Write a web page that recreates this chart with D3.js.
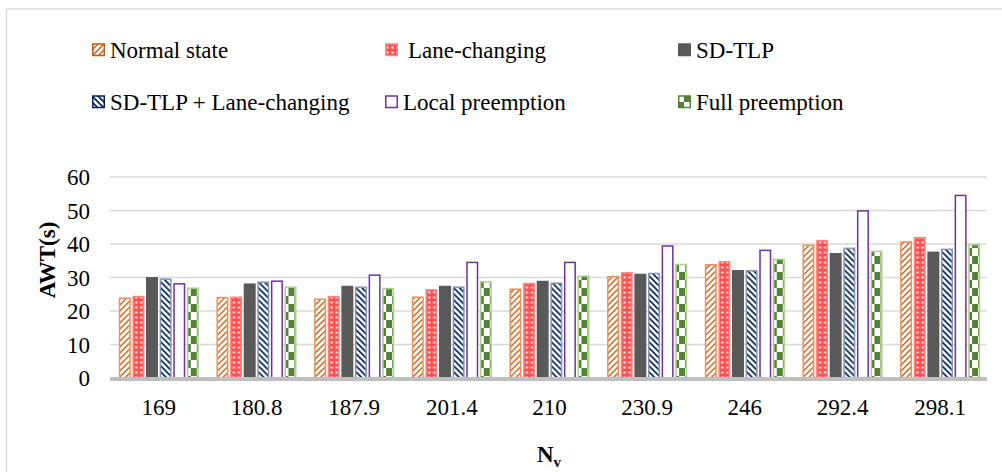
<!DOCTYPE html>
<html>
<head>
<meta charset="utf-8">
<script src="https://cdn.jsdelivr.net/npm/d3@7"></script>
<style>
  html, body { margin: 0; padding: 0; background: #fff; }
</style>
</head>
<body>
<div id="chart"></div>
<script>
// categories (N_v)
const categories = ["169", "180.8", "187.9", "201.4", "210", "230.9", "246", "292.4", "298.1"];
const seriesNames = ["Normal state", "Lane-changing", "SD-TLP", "SD-TLP + Lane-changing", "Local preemption", "Full preemption"];

// AWT(s) per series
const normalState = [23.8, 24.0, 23.5, 24.1, 26.5, 30.2, 33.8, 39.6, 40.6];
const laneChanging = [24.3, 24.1, 24.3, 26.3, 28.2, 31.4, 34.7, 41.0, 41.9];
const sdTlp = [29.9, 28.0, 27.3, 27.3, 28.8, 30.9, 32.0, 37.1, 37.5];
const sdTlpLane = [29.5, 28.6, 27.1, 27.1, 28.3, 31.2, 32.0, 38.7, 38.4];
const localPreemption = [28.1, 28.9, 30.7, 34.5, 34.5, 39.4, 38.1, 49.9, 54.5];
const fullPreemption = [26.8, 27.1, 26.7, 28.7, 30.4, 33.9, 35.4, 37.8, 39.8];

const yTicks = [0, 10, 20, 30, 40, 50, 60];

const seriesValues = [normalState, laneChanging, sdTlp, sdTlpLane, localPreemption, fullPreemption];

const FONT = "'Liberation Serif', 'Times New Roman', serif";
const width = 1002, height = 472;
const svg = d3.select("#chart").append("svg")
    .attr("width", width)
    .attr("height", height)
    .attr("font-family", FONT);

// --- fill patterns ---
const defs = svg.append("defs");

let p = defs.append("pattern").attr("id", "pNormal").attr("patternUnits", "userSpaceOnUse")
    .attr("width", 6).attr("height", 6);
p.append("rect").attr("width", 6).attr("height", 6).attr("fill", "#fff");
p.append("path").attr("d", "M-1,7L7,-1M-1,1L1,-1M5,7L7,5").attr("stroke", "#C55A11").attr("stroke-width", 1.4);

p = defs.append("pattern").attr("id", "pLane").attr("patternUnits", "userSpaceOnUse")
    .attr("width", 5).attr("height", 5);
p.append("rect").attr("width", 5).attr("height", 5).attr("fill", "#FF5050");
p.append("rect").attr("x", 1.5).attr("y", 1.5).attr("width", 2).attr("height", 2).attr("fill", "#fff");

p = defs.append("pattern").attr("id", "pSdLane").attr("patternUnits", "userSpaceOnUse")
    .attr("width", 6).attr("height", 6);
p.append("rect").attr("width", 6).attr("height", 6).attr("fill", "#fff");
p.append("path").attr("d", "M-1,-1L7,7M5,-1L7,1M-1,5L1,7").attr("stroke", "#002060").attr("stroke-width", 1.6);

p = defs.append("pattern").attr("id", "pFull").attr("patternUnits", "userSpaceOnUse")
    .attr("width", 12).attr("height", 16);
p.append("rect").attr("width", 12).attr("height", 16).attr("fill", "#fff");
p.append("rect").attr("x", 0).attr("y", 0).attr("width", 6).attr("height", 8).attr("fill", "#548235");
p.append("rect").attr("x", 6).attr("y", 8).attr("width", 6).attr("height", 8).attr("fill", "#548235");

const fills = ["url(#pNormal)", "url(#pLane)", "#595959", "url(#pSdLane)", "#fff", "url(#pFull)"];
const strokes = ["#E8925C", "#FF8585", "#595959", "#8497B0", "#7030A0", "#A9D18E"];

// chart frame (cut off at right and bottom like the original)
svg.append("rect")
    .attr("x", 6.5).attr("y", 9)
    .attr("width", 1100).attr("height", 600)
    .attr("fill", "none")
    .attr("stroke", "#D9D9D9")
    .attr("stroke-width", 1.5);

// --- scales ---
const x0 = d3.scaleBand().domain(categories).range([110, 989]).paddingInner(0.18).paddingOuter(0.09);
const x1 = d3.scaleBand().domain(d3.range(seriesNames.length)).range([0, x0.bandwidth()]).paddingInner(0.12);
const y = d3.scaleLinear().domain([0, 60]).range([378, 177]);

// gridlines
svg.append("g").selectAll("line")
    .data(yTicks.filter(t => t > 0))
    .enter().append("line")
    .attr("x1", 110).attr("x2", 987)
    .attr("y1", d => y(d)).attr("y2", d => y(d))
    .attr("stroke", "#D9D9D9")
    .attr("stroke-width", 1.5);

// bars
const groups = svg.append("g").selectAll("g")
    .data(categories)
    .enter().append("g")
    .attr("transform", d => `translate(${x0(d)},0)`);

groups.selectAll("rect")
    .data((c, i) => seriesValues.map((vals, s) => ({ s: s, v: vals[i] })))
    .enter().append("rect")
    .attr("x", d => x1(d.s) + 0.75)
    .attr("width", x1.bandwidth() - 1.5)
    .attr("y", d => y(d.v))
    .attr("height", d => y(0) - y(d.v))
    .attr("fill", d => fills[d.s])
    .attr("stroke", d => strokes[d.s])
    .attr("stroke-width", 1.5);

// baseline
svg.append("line")
    .attr("x1", 110).attr("x2", 987)
    .attr("y1", y(0) + 1).attr("y2", y(0) + 1)
    .attr("stroke", "#BFBFBF")
    .attr("stroke-width", 4);

// y axis
const yAxis = svg.append("g")
    .attr("transform", "translate(110,0)")
    .call(d3.axisLeft(y).tickValues(yTicks).tickSize(0).tickPadding(20));
yAxis.select(".domain").remove();
yAxis.attr("font-family", FONT);
yAxis.selectAll("text")
    .style("font-size", "23px")
    .style("font-family", FONT)
    .attr("dy", "0.34em");

// x axis
const xAxis = svg.append("g")
    .attr("transform", "translate(0,380)")
    .call(d3.axisBottom(x0).tickSize(0).tickPadding(0));
xAxis.select(".domain").remove();
xAxis.attr("font-family", FONT);
xAxis.selectAll("text")
    .attr("y", 35)
    .attr("dy", 0)
    .style("font-size", "23px")
    .style("font-family", FONT);

// axis titles
svg.append("text")
    .attr("transform", "translate(55,260) rotate(-90)")
    .attr("text-anchor", "middle")
    .style("font-family", FONT)
    .style("font-size", "23px")
    .style("font-weight", "bold")
    .text("AWT(s)");

const xTitle = svg.append("text")
    .attr("x", 549)
    .attr("y", 462)
    .attr("text-anchor", "middle")
    .style("font-family", FONT)
    .style("font-size", "23px")
    .style("font-weight", "bold");
xTitle.append("tspan").text("N");
xTitle.append("tspan").attr("dy", 5).style("font-size", "15px").text("v");

// legend
const legendX = [92, 385, 678];
const legendRowY = [50, 102];
const textGap = [5, 10, 5, 5, 5, 5];
const legend = svg.append("g").selectAll("g")
    .data(seriesNames)
    .enter().append("g")
    .attr("transform", (d, i) => `translate(${legendX[i % 3]},${legendRowY[Math.floor(i / 3)]})`);

legend.append("rect")
    .attr("x", 0.75).attr("y", -6)
    .attr("width", 11.5).attr("height", 11.5)
    .attr("fill", (d, i) => fills[i])
    .attr("stroke", (d, i) => i === 0 ? "#C55A11" : (i === 3 ? "#002060" : (i === 5 ? "#548235" : strokes[i])))
    .attr("stroke-width", 1.5);

legend.append("text")
    .attr("x", (d, i) => 13 + textGap[i])
    .attr("y", 7.5)
    .style("font-family", FONT)
    .style("font-size", "23px")
    .text(d => d);
</script>
</body>
</html>
